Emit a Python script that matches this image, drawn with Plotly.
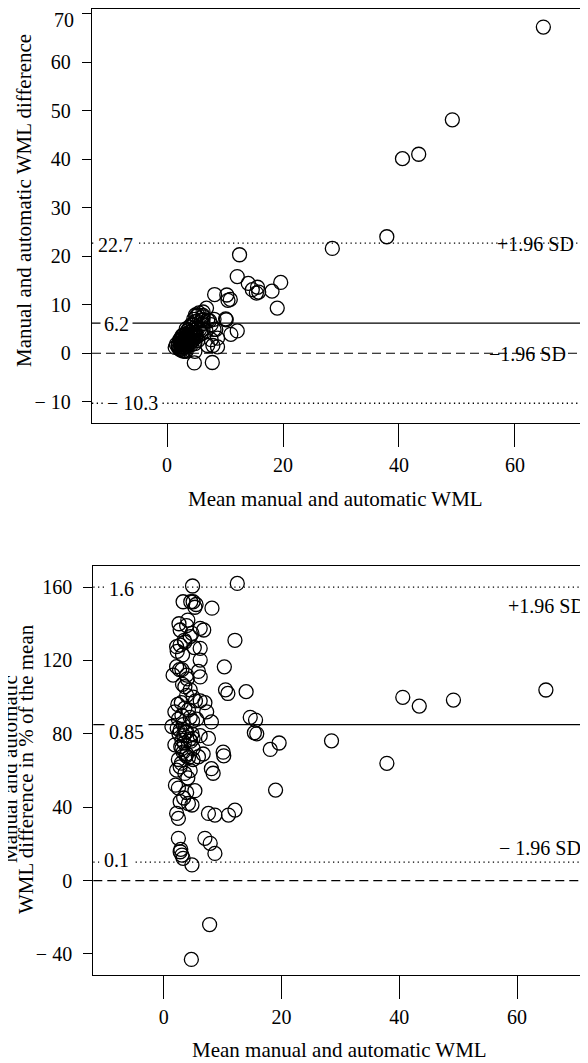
import plotly.graph_objects as go

# ---------------- data ----------------
mean_wml = [64.9, 49.2, 40.6, 43.4, 37.9, 28.5, 19.6, 18.1, 19.0, 14.0,
            14.7, 15.6, 15.4, 15.8, 12.5, 12.1, 10.3, 10.5, 10.9, 8.2,
            10.1, 10.2, 12.1, 11.0, 7.6, 8.7, 7.0, 7.9, 8.7, 7.8,
            4.7, 8.1, 8.4, 7.6, 8.1, 7.3, 7.0, 6.8,
            4.9, 3.3, 5.0, 5.5, 5.3, 2.8, 4.8, 6.2, 3.9, 2.2,
            2.8, 6.2, 3.2, 6.2, 2.2, 3.1, 3.9, 5.9, 6.2, 1.6,
            3.6, 4.5, 3.9, 6.2, 5.0, 1.9, 3.1, 4.5, 5.6, 2.5,
            3.6, 1.4, 2.8, 3.9, 4.8, 6.2, 3.3, 2.3, 1.9, 3.1,
            3.9, 5.0, 5.9, 6.7, 3.1, 5.0, 3.3, 4.2, 2.5, 5.0,
            2.2, 3.6, 2.8, 4.5, 2.5, 3.9, 5.3, 2.8, 4.2, 4.8,
            3.4, 2.5, 2.2, 2.5, 2.8, 3.1, 3.3, 4.8, 2.9, 2.7,
            3.5, 4.1, 4.5, 2.4, 3.0, 4.2, 3.7, 4.4, 2.9, 3.5,
            4.6, 3.8, 2.6, 5.4, 3.2, 4.0, 2.3, 3.6, 5.2, 4.6,
            2.6, 3.0, 4.1, 2.0, 3.4, 4.9]

diff_wml = [67.2, 48.1, 40.1, 41.0, 24.0, 21.6, 14.6, 12.8, 9.3, 14.4,
            13.1, 13.6, 12.4, 12.6, 20.3, 15.8, 12.0, 10.9, 11.1, 12.1,
            7.1, 6.9, 4.6, 3.9, 2.8, 3.1, 1.6, 1.6, 1.3, -1.9,
            -2.0, 4.9, 4.9, 5.9, 7.0, 6.7, 6.8, 9.3,
            7.9, 5.0, 7.6, 8.3, 7.9, 3.8, 6.5, 8.5, 5.4, 2.8,
            3.6, 7.8, 3.9, 7.5, 2.6, 3.6, 4.4, 6.8, 6.9, 1.8,
            3.8, 4.7, 4.0, 6.1, 5.0, 1.7, 2.8, 4.0, 4.9, 2.2,
            3.4, 1.2, 2.3, 3.2, 3.9, 4.9, 2.8, 1.9, 1.4, 2.2,
            2.7, 3.6, 4.0, 4.6, 2.4, 3.9, 2.3, 2.8, 1.7, 3.3,
            1.3, 2.1, 1.7, 2.7, 1.3, 1.9, 2.6, 1.2, 1.8, 2.0,
            1.5, 0.85, 0.8, 0.6, 0.45, 0.43, 0.4, 0.4, 0.5, 3.1,
            4.6, 5.8, 6.0, 2.3, 2.9, 3.9, 3.0, 3.4, 2.1, 2.6,
            3.5, 2.6, 2.1, 5.3, 3.4, 4.4, 2.9, 4.7, 6.6, 7.0,
            3.6, 1.9, 2.3, 1.0, 2.7, 4.3]

pct_diff = [103.9, 98.4, 99.9, 95.1, 63.9, 76.2, 75.0, 71.5, 49.3, 103.0,
            89.0, 87.5, 80.6, 80.0, 162.0, 131.0, 116.5, 104.0, 102.0, 148.5,
            70.0, 68.0, 38.4, 35.7, 36.6, 35.7, 23.0, 20.3, 14.8, -24.0,
            -43.0, 61.0, 58.5, 77.5, 86.5, 92.0, 97.0, 136.6,
            160.6, 152.0, 152.0, 150.5, 149.0, 136.6, 134.8, 137.5, 139.0, 127.5,
            128.4, 126.6, 123.0, 120.2, 116.6, 115.0, 112.0, 114.0, 111.0, 112.0,
            105.7, 104.0, 101.0, 98.0, 100.0, 92.0, 90.0, 89.0, 88.0, 88.0,
            94.0, 84.0, 82.0, 81.0, 80.0, 79.0, 85.0, 83.0, 74.0, 72.0,
            69.0, 72.0, 67.5, 69.0, 76.6, 77.5, 70.0, 67.0, 66.0, 66.0,
            60.2, 58.4, 62.0, 60.0, 50.4, 48.0, 49.0, 43.0, 42.0, 41.2,
            45.0, 33.9, 36.6, 23.0, 15.7, 13.9, 12.1, 8.5, 17.0, 115.0,
            131.0, 142.0, 133.0, 96.0, 97.0, 93.0, 81.0, 77.0, 73.0, 75.0,
            76.0, 68.0, 80.0, 98.0, 107.0, 110.0, 125.0, 130.0, 127.0, 152.0,
            140.0, 64.0, 56.0, 52.0, 79.0, 87.0]

top_line_values = [22.7, 6.2, -10.3]
top_line_labels = ["22.7", "6.2", "\u2212 10.3"]
bottom_line_values = [160, 85, 10]
bottom_line_labels = ["1.6", "0.85", "0.1"]

x_tick_values = [0, 20, 40, 60]
x_tick_labels = ["0", "20", "40", "60"]
top_y_tick_values = [70, 60, 50, 40, 30, 20, 10, 0, -10]
top_y_tick_labels = ["70", "60", "50", "40", "30", "20", "10", "0", "\u2212 10"]
bottom_y_tick_values = [160, 120, 80, 40, 0, -40]
bottom_y_tick_labels = ["160", "120", "80", "40", "0", "\u2212 40"]

# ---------------- layout helpers ----------------
# the page body has an 8px margin, so the figure starts at (8, 8) on screen
OX, OY = 8, 8
W, H = 580, 1055
FONT = "Liberation Serif"


def px(p):
    return (p - OX) / W


def py(p):
    return 1 - (p - OY) / H


fig = go.Figure()

marker = dict(symbol="circle-open", size=14, color="black", line=dict(width=1.3, color="black"))

fig.add_trace(go.Scatter(x=mean_wml, y=diff_wml, mode="markers", marker=marker,
                         xaxis="x", yaxis="y", showlegend=False, hoverinfo="skip"))
fig.add_trace(go.Scatter(x=mean_wml, y=pct_diff, mode="markers", marker=marker,
                         xaxis="x2", yaxis="y2", showlegend=False, hoverinfo="skip"))

tickfont = dict(family=FONT, size=20, color="black")

common_x = dict(showgrid=False, zeroline=False, showline=True, mirror=True, linecolor="black",
                linewidth=1.3, ticks="outside", ticklen=23, tickwidth=1, tickcolor="black",
                tickvals=x_tick_values, ticktext=x_tick_labels, tickfont=tickfont,
                ticklabelstandoff=1, automargin=False, ticklabeloverflow="allow")
common_y = dict(showgrid=False, zeroline=False, showline=True, mirror=False, linecolor="black",
                linewidth=1.3, ticks="outside", ticklen=9, tickwidth=1, tickcolor="black",
                tickfont=tickfont, ticklabelstandoff=7, automargin=False, ticklabeloverflow="allow")

# the topmost tick label sits at the very top edge; it is drawn as an annotation
# (nudged down a little) so that it is not clipped by the page
top_axis_text = [""] + top_y_tick_labels[1:]

fig.update_layout(
    width=W, height=H, autosize=False,
    margin=dict(l=0, r=0, t=0, b=0, pad=0),
    paper_bgcolor="white", plot_bgcolor="white",
    font=dict(family=FONT, size=20, color="black"),
    xaxis=dict(domain=[px(92), 1], range=[-12.95, 72.6], anchor="y", **common_x),
    yaxis=dict(domain=[py(423), py(9)], range=[-14.37, 70.93], anchor="x",
               tickvals=top_y_tick_values, ticktext=top_axis_text, **common_y),
    xaxis2=dict(domain=[px(93.3), 1], range=[-11.95, 72.05], anchor="y2", **common_x),
    yaxis2=dict(domain=[py(975), py(566)], range=[-51.5, 171.5], anchor="x2",
                tickvals=bottom_y_tick_values, ticktext=bottom_y_tick_labels, **common_y),
)

dot = dict(color="black", width=1.3, dash="1.3px,3.4px")
solid = dict(color="black", width=1.2)
dashed = dict(color="black", width=1.2, dash="9px,5px")

shapes = []
for v, st in zip(top_line_values, [dot, solid, dot]):
    shapes.append(dict(type="line", xref="x domain", yref="y", x0=0, x1=1, y0=v, y1=v, line=st))
shapes.append(dict(type="line", xref="x domain", yref="y", x0=0, x1=1, y0=0, y1=0, line=dashed))
for v, st in zip(bottom_line_values, [dot, solid, dot]):
    shapes.append(dict(type="line", xref="x2 domain", yref="y2", x0=0, x1=1, y0=v, y1=v, line=st))
shapes.append(dict(type="line", xref="x2 domain", yref="y2", x0=0, x1=1, y0=0, y1=0, line=dashed))
fig.update_layout(shapes=shapes)

ann = []
labfont = dict(family=FONT, size=20, color="black")

ann.append(dict(text=top_y_tick_labels[0], xref="paper", yref="y", x=px(76), y=top_y_tick_values[0],
                yshift=-6, showarrow=False, xanchor="right", yanchor="middle", font=labfont))

top_label_x = [115, 116.5, 132.5]
top_label_shift = [-2, -1, 0]
for v, t, xx, sh in zip(top_line_values, top_line_labels, top_label_x, top_label_shift):
    ann.append(dict(text=t, xref="paper", yref="y", x=px(xx), y=v, yshift=sh, showarrow=False,
                    xanchor="center", yanchor="middle", font=labfont, bgcolor="white", borderpad=3))
bot_label_x = [121.5, 126, 117]
bot_label_shift = [-2, -7, 2]
for v, t, xx, sh in zip(bottom_line_values, bottom_line_labels, bot_label_x, bot_label_shift):
    ann.append(dict(text=t, xref="paper", yref="y2", x=px(xx), y=v, yshift=sh, showarrow=False,
                    xanchor="center", yanchor="middle", font=labfont, bgcolor="white", borderpad=4))

ann.append(dict(text="+1.96 SD", xref="paper", yref="y", x=px(535), y=top_line_values[0], yshift=-1,
                showarrow=False, xanchor="center", yanchor="middle", font=labfont))
ann.append(dict(text="\u22121.96 SD", xref="paper", yref="y", x=px(527.5), y=0, yshift=-1,
                showarrow=False, xanchor="center", yanchor="middle", font=labfont))
ann.append(dict(text="+1.96 SD", xref="paper", yref="y2", x=px(546.5), y=bottom_line_values[0], yshift=-19,
                showarrow=False, xanchor="center", yanchor="middle", font=labfont))
ann.append(dict(text="\u2212 1.96 SD", xref="paper", yref="y2", x=px(540), y=bottom_line_values[2], yshift=14,
                showarrow=False, xanchor="center", yanchor="middle", font=labfont))

tfont = dict(family=FONT, size=21, color="black")
ann.append(dict(text="Mean manual and automatic WML", xref="paper", yref="paper", x=px(335), y=py(499),
                showarrow=False, xanchor="center", yanchor="middle", font=tfont))
ann.append(dict(text="Mean manual and automatic WML", xref="paper", yref="paper", x=px(339), y=py(1050),
                showarrow=False, xanchor="center", yanchor="middle", font=tfont))
ann.append(dict(text="Manual and automatic WML difference", xref="paper", yref="paper", x=px(24), y=py(201),
                textangle=-90, showarrow=False, xanchor="center", yanchor="middle", font=tfont))
ann.append(dict(text="Manual and automatic", xref="paper", yref="paper", x=px(10), y=py(769),
                textangle=-90, showarrow=False, xanchor="center", yanchor="middle", font=tfont))
ann.append(dict(text="WML difference in % of the mean", xref="paper", yref="paper", x=px(26), y=py(769),
                textangle=-90, showarrow=False, xanchor="center", yanchor="middle", font=tfont))

fig.update_layout(annotations=ann)

fig.write_html("out.html")
